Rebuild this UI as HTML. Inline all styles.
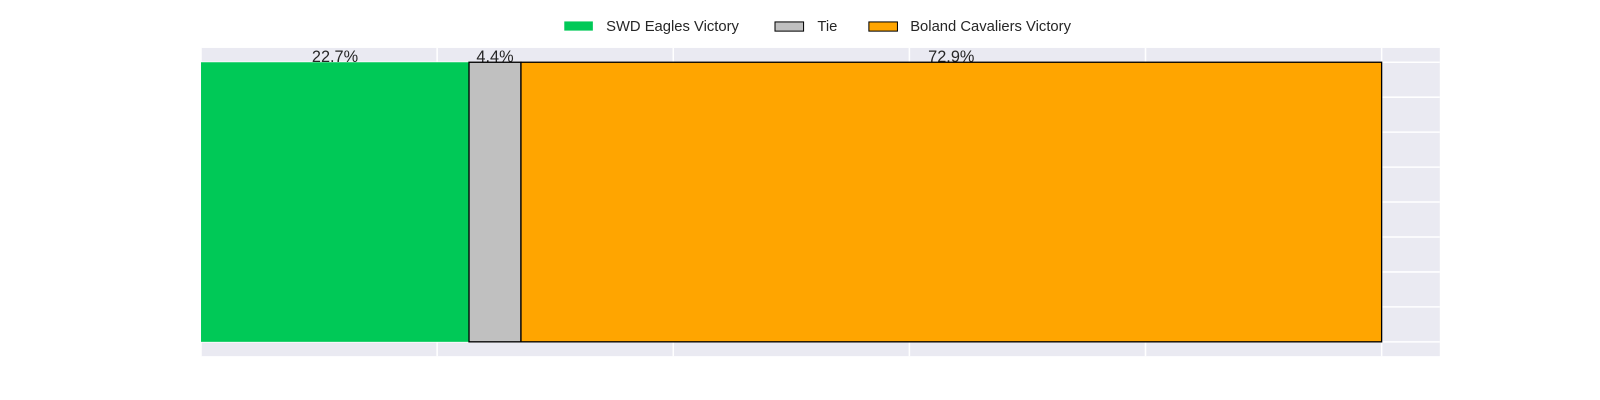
<!DOCTYPE html>
<html><head><meta charset="utf-8"><style>
html,body{margin:0;padding:0;background:#fff;width:1600px;height:400px;overflow:hidden}
text{font-family:"Liberation Sans",Arial,sans-serif}
</style></head><body>
<svg id="chart" width="1600" height="400" viewBox="0 0 1568 392">
<rect x="197" y="47" width="1214" height="302" fill="#eaeaf2"/>
<g id="grid"></g>
<g id="labels"></g>
<g id="bars"></g>
<g>
<rect x="553" y="21" width="28" height="9" fill="#00c957"/>
<text x="594" y="30.5" font-size="14.5" fill="#262626">SWD Eagles Victory</text>
<rect x="759.5" y="21.5" width="28" height="9" fill="#c0c0c0" stroke="#000"/>
<text x="801" y="30.5" font-size="14.5" fill="#262626">Tie</text>
<rect x="851.5" y="21.5" width="28" height="9" fill="#ffa500" stroke="#000"/>
<text x="892" y="30.5" font-size="14.5" fill="#262626">Boland Cavaliers Victory</text>
</g>
</svg>
<script>
const categories = ["SWD Eagles Victory", "Tie", "Boland Cavaliers Victory"];
const values = [22.7, 4.4, 72.9];
const xTicks = [0, 0.2, 0.4, 0.6, 0.8, 1.0];
const colors = ["#00c957", "#c0c0c0", "#ffa500"];
const NS = "http://www.w3.org/2000/svg";
const x = v => 197 + v * 1157;
const yTop = 61, yBot = 335;
const grid = document.getElementById('grid');
xTicks.forEach(t => {
  const l = document.createElementNS(NS, 'line');
  l.setAttribute('x1', x(t)); l.setAttribute('x2', x(t));
  l.setAttribute('y1', 47); l.setAttribute('y2', 349);
  l.setAttribute('stroke', '#fff'); l.setAttribute('stroke-width', '1.5');
  
  
  grid.appendChild(l);
});
for (let i = 0; i <= 8; i++) {
  const y = yTop + i * (yBot - yTop) / 8;
  const l = document.createElementNS(NS, 'line');
  l.setAttribute('x1', 197); l.setAttribute('x2', 1411);
  l.setAttribute('y1', y); l.setAttribute('y2', y);
  l.setAttribute('stroke', '#fff'); l.setAttribute('stroke-width', '1.5');
  
  
  grid.appendChild(l);
}
const bars = document.getElementById('bars');
const labels = document.getElementById('labels');
let cum = 0;
values.forEach((v, i) => {
  const x0 = x(cum / 100), x1 = x((cum + v) / 100);
  const r = document.createElementNS(NS, 'rect');
  r.setAttribute('x', x0); r.setAttribute('y', yTop);
  r.setAttribute('width', x1 - x0); r.setAttribute('height', yBot - yTop);
  r.setAttribute('fill', colors[i]);
  if (i > 0) { r.setAttribute('stroke', '#000'); r.setAttribute('stroke-width', '1.3'); }
  
  
  bars.appendChild(r);
  const t = document.createElementNS(NS, 'text');
  t.setAttribute('x', (x0 + x1) / 2); t.setAttribute('y', 61);
  t.setAttribute('text-anchor', 'middle'); t.setAttribute('font-size', '16');
  t.setAttribute('fill', '#262626');
  t.textContent = v.toFixed(1) + '%';
  
  
  labels.appendChild(t);
  cum += v;
});
</script>
</body></html>
